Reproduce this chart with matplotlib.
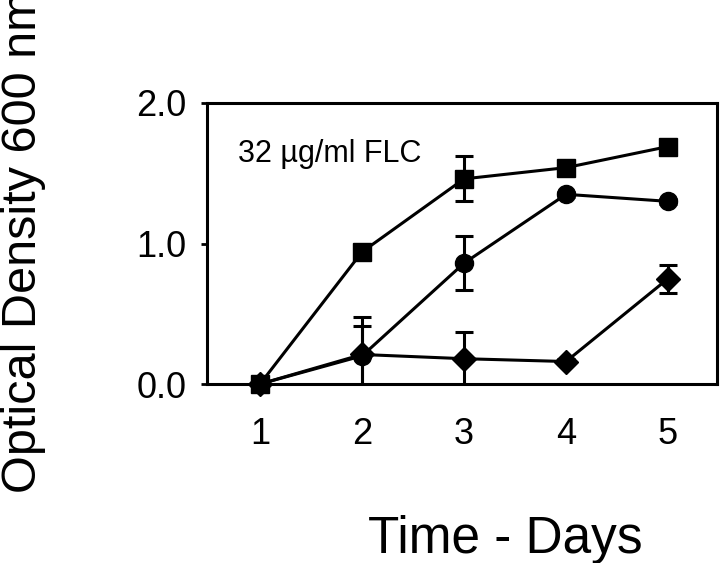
import matplotlib
matplotlib.use("Agg")
import matplotlib.pyplot as plt

plt.rcParams['font.family'] = ['Liberation Sans', 'DejaVu Sans']

# data
days = [1, 2, 3, 4, 5]
od_square = [0.0, 0.94, 1.46, 1.54, 1.69]
err_square = [0.0, 0.03, 0.16, 0.03, 0.02]
od_circle = [0.0, 0.20, 0.86, 1.35, 1.30]
err_circle = [0.0, 0.21, 0.19, 0.02, 0.02]
od_diamond = [0.0, 0.21, 0.18, 0.16, 0.75]
err_diamond = [0.0, 0.27, 0.19, 0.02, 0.10]
y_ticks = [0.0, 1.0, 2.0]
y_ticklabels = ["0.0", "1.0", "2.0"]

fig = plt.figure(figsize=(7.2, 5.63), dpi=100)
ax = fig.add_axes([207 / 720, 1 - 384 / 563, 510 / 720, 281 / 563])

series = [
    (od_circle, err_circle, 'o', 13),
    (od_diamond, err_diamond, 'D', 12),
    (od_square, err_square, 's', 13),
]
for vals, errs, mk, ms in series:
    # error bars stay clipped to the axes box
    ax.errorbar(days, vals, yerr=errs, fmt='none', ecolor='black',
                elinewidth=2.2, capsize=6.5, capthick=2.2, zorder=2)
    ax.plot(days, vals, color='black', lw=2.2, marker=mk, markersize=ms,
            markerfacecolor='black', markeredgecolor='black',
            clip_on=False, zorder=3)

ax.set_xlim(0.48, 5.48)
ax.set_ylim(0, 2.0)
ax.set_xticks(days)
ax.set_xticklabels([str(d) for d in days], fontsize=26)
ax.set_yticks(y_ticks)
ax.set_yticklabels(y_ticklabels, fontsize=26)
ax.tick_params(axis='x', length=0, pad=24)
ax.tick_params(axis='y', length=4, width=2, direction='out', pad=11)
for sp in ax.spines.values():
    sp.set_linewidth(2.2)

fig.text(238 / 720, 1 - 162 / 563, "32 \u00b5g/ml FLC", fontsize=22,
         ha='left', va='baseline')

fig.text(505 / 720, 1 - 553 / 563, "Time - Days", fontsize=37,
         ha='center', va='baseline')
fig.text(1 / 720, 1 - 493 / 563, "Optical Density 600 nm", fontsize=35,
         rotation=90, ha='left', va='bottom')

fig.savefig("out.png", dpi=100)
